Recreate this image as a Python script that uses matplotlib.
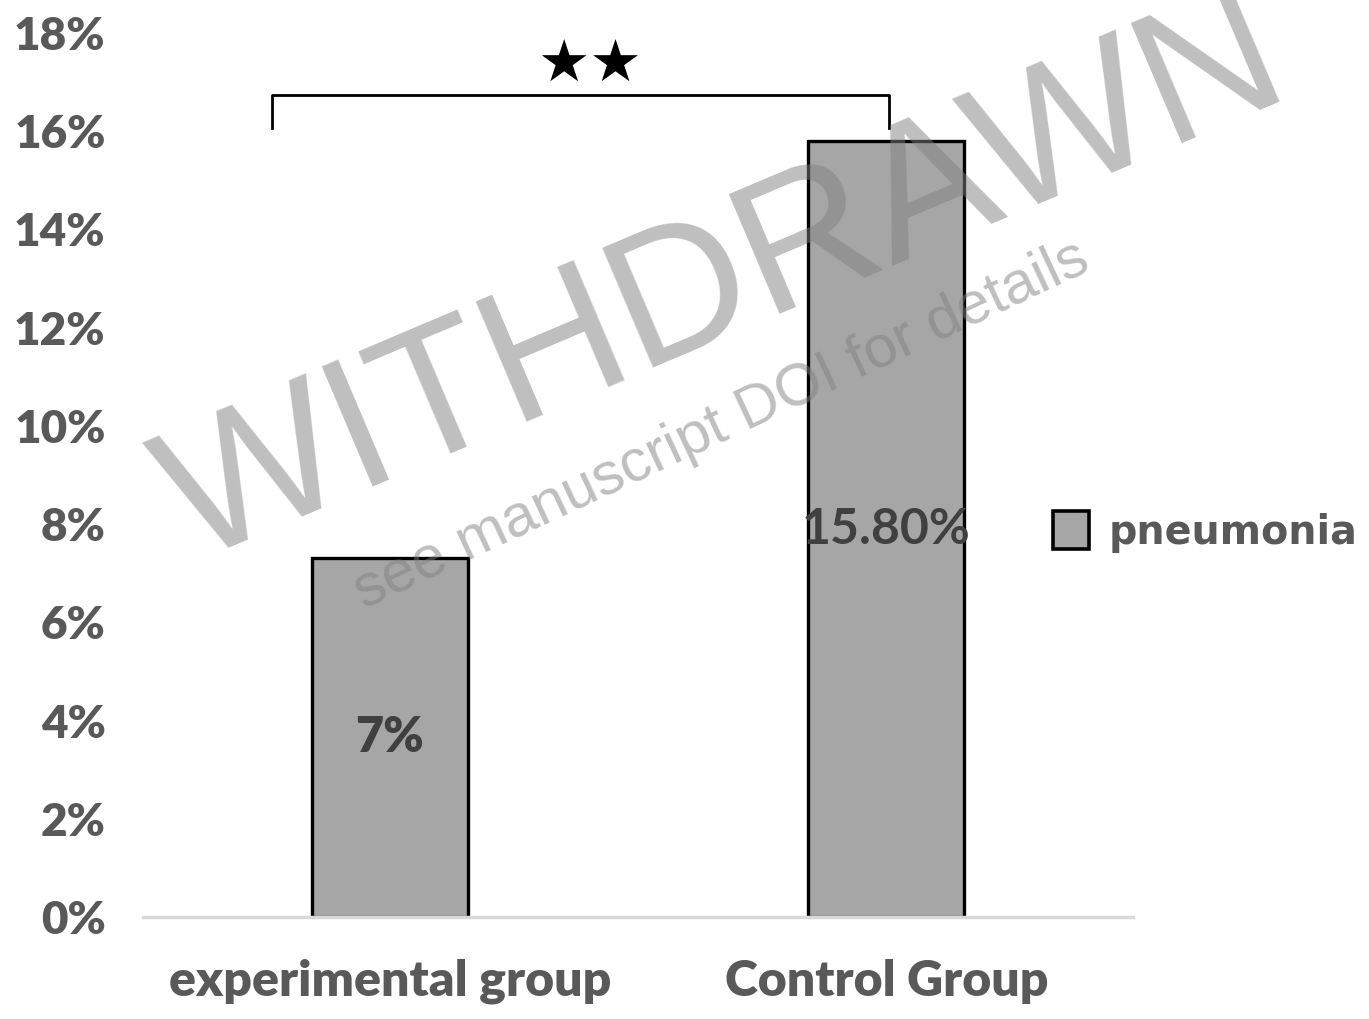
import matplotlib
matplotlib.use("Agg")
import matplotlib.pyplot as plt
from matplotlib.patches import Patch

categories = ["experimental group", "Control Group"]
values = [7.3, 15.8]
value_labels = ["7%", "15.80%"]
y_ticks = [0, 2, 4, 6, 8, 10, 12, 14, 16, 18]
y_tick_labels = [f"{t}%" for t in y_ticks]
series_name = "pneumonia"
significance = "★★"

fig = plt.figure(figsize=(13.69, 10.19), dpi=100)
ax = fig.add_axes([0.1045, 0.1001, 0.7232, 0.8675])

x = list(range(len(categories)))
bars = ax.bar(x, values, width=0.314, color="#a6a6a6", edgecolor="black",
              linewidth=2.4, zorder=3, label=series_name)

ax.set_xlim(-0.497, 1.497)
ax.set_ylim(0, 18)
ax.set_yticks(y_ticks)
ax.set_yticklabels(y_tick_labels, fontfamily="Lato", fontweight="heavy",
                   fontsize=33, color="#595959")
ax.set_xticks(x)
ax.set_xticklabels(categories, fontfamily="Lato", fontweight="heavy",
                   fontsize=36, color="#595959")
ax.tick_params(axis="y", length=0, pad=27)
ax.tick_params(axis="x", length=0, pad=30)
for s in ["top", "right", "left"]:
    ax.spines[s].set_visible(False)
ax.spines["bottom"].set_color("#d9d9d9")
ax.spines["bottom"].set_linewidth(2.5)
ax.spines["bottom"].set_zorder(4)

# data labels
ax.text(x[0], values[0] / 2, value_labels[0], ha="center", va="center",
        fontfamily="Lato", fontweight="heavy", fontsize=35, color="#404040", zorder=5)
ax.text(x[1], values[1] / 2, value_labels[1], ha="center", va="center",
        fontfamily="Lato", fontweight="bold", fontsize=36, color="#404040", zorder=5)

# significance bracket
bx0, bx1 = -0.237, 1.006
by_top, by_end = 16.74, 16.07
ax.plot([bx0, bx0, bx1, bx1], [by_end, by_top, by_top, by_end],
        color="black", linewidth=2.0, clip_on=False, zorder=5,
        solid_joinstyle="round")
ax.text(0.402, 17.35, significance, ha="center", va="center",
        fontfamily="DejaVu Sans", fontsize=42, color="black", clip_on=False)

# legend
handle = Patch(facecolor="#a6a6a6", edgecolor="black", linewidth=2.6)
fig.legend([handle], [series_name], loc="center left",
           bbox_to_anchor=(1053 / 1369, 1 - 532 / 1019),
           frameon=False, borderpad=0, borderaxespad=0,
           handlelength=0.9, handleheight=1.1, handletextpad=0.5,
           prop={"family": "DejaVu Sans", "weight": "bold", "size": 28.5},
           labelcolor="#595959")

# watermark
fig.text(724 / 1369, 1 - 284 / 1019, "WITHDRAWN", rotation=23,
         ha="center", va="center", fontfamily="Liberation Sans",
         fontsize=137, color="#808080", alpha=0.5, zorder=10)
fig.text(722 / 1369, 1 - 425 / 1019, "see manuscript DOI for details", rotation=25,
         ha="center", va="center", fontfamily="Liberation Sans",
         fontsize=43, color="#808080", alpha=0.5, zorder=10)

fig.savefig("out.png", dpi=100)
